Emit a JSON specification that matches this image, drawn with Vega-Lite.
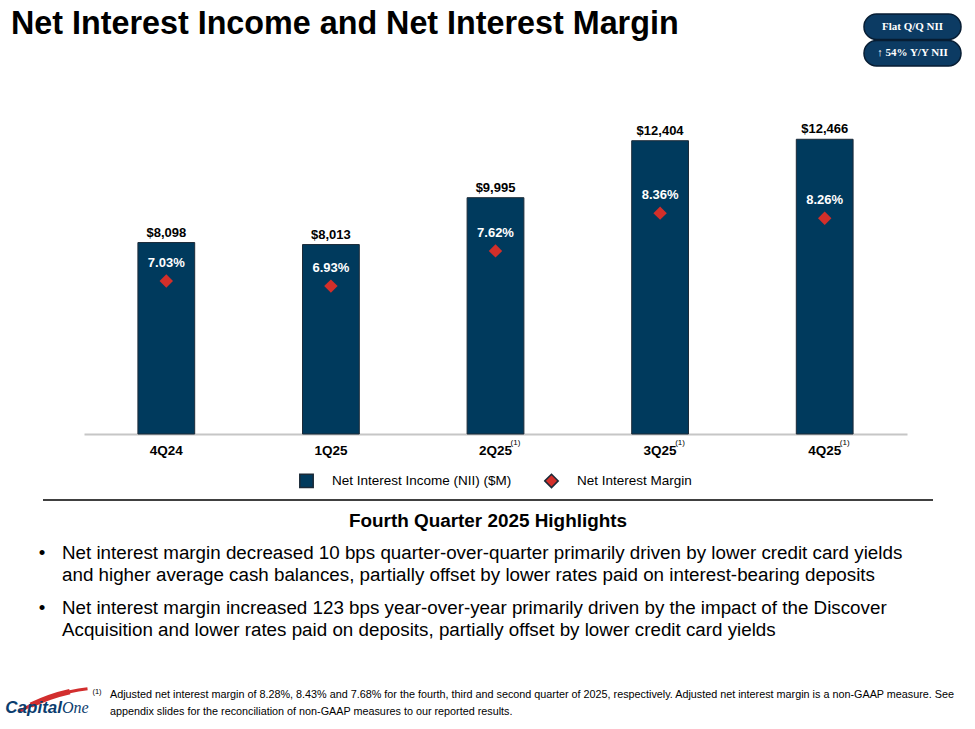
{
  "$schema": "https://vega.github.io/schema/vega-lite/v6.json",
  "background": "white",
  "padding": 0,
  "spacing": 0,
  "config": {
    "view": {"stroke": null},
    "font": "Liberation Sans",
    "concat": {"spacing": 0},
    "legend": {"layout": {"bottom": {"anchor": "middle"}}}
  },
  "resolve": {
    "scale": {"color": "independent", "shape": "independent"},
    "legend": {"color": "independent", "shape": "independent"}
  },
  "vconcat": [
    {
      "hconcat": [
        {
          "width": 864,
          "height": 47,
          "data": {"values": [{"heading": "Net Interest Income and Net Interest Margin"}]},
          "mark": {"type": "text", "align": "left", "baseline": "middle", "dx": 11, "fontSize": 32.3, "fontWeight": "bold", "color": "black"},
          "encoding": {
            "x": {"datum": 0, "scale": {"domain": [0, 1]}, "axis": null},
            "text": {"field": "heading"}
          }
        },
        {
          "width": 97,
          "height": 103,
          "data": {"values": [{"badge": "Flat Q/Q NII"}, {"badge": "↑ 54% Y/Y NII"}]},
          "encoding": {
            "y": {"field": "badge", "type": "nominal", "sort": null, "axis": null,
                  "scale": {"type": "band", "paddingInner": 0.04, "paddingOuter": 0.963, "align": 0.275}}
          },
          "layer": [
            {
              "mark": {"type": "rect", "cornerRadius": 12.5, "fill": "#0c3b63", "stroke": "#071d33", "strokeWidth": 1.5},
              "encoding": {
                "x": {"datum": 0, "scale": {"domain": [0, 1]}, "axis": null},
                "x2": {"datum": 1}
              }
            },
            {
              "mark": {"type": "text", "font": "Liberation Serif", "fontWeight": "bold", "fontSize": 11, "color": "white"},
              "encoding": {"text": {"field": "badge"}}
            }
          ]
        }
      ],
      "bounds": "flush",
      "spacing": 0
    },
    {
      "hconcat": [
        {"width": 84, "height": 396, "data": {"values": []}, "mark": "text", "encoding": {}},
        {
          "width": 823,
          "height": 331,
          "data": {
            "values": [
              {"quarter": "4Q24", "series": "Net Interest Income (NII) ($M)", "value": 8098},
              {"quarter": "1Q25", "series": "Net Interest Income (NII) ($M)", "value": 8013},
              {"quarter": "2Q25", "series": "Net Interest Income (NII) ($M)", "value": 9995, "note": "(1)"},
              {"quarter": "3Q25", "series": "Net Interest Income (NII) ($M)", "value": 12404, "note": "(1)"},
              {"quarter": "4Q25", "series": "Net Interest Income (NII) ($M)", "value": 12466, "note": "(1)"},
              {"quarter": "4Q24", "series": "Net Interest Margin", "value": 0.0703},
              {"quarter": "1Q25", "series": "Net Interest Margin", "value": 0.0693},
              {"quarter": "2Q25", "series": "Net Interest Margin", "value": 0.0762},
              {"quarter": "3Q25", "series": "Net Interest Margin", "value": 0.0836},
              {"quarter": "4Q25", "series": "Net Interest Margin", "value": 0.0826}
            ]
          },
          "layer": [
            {
              "transform": [{"filter": "datum.series === 'Net Interest Income (NII) ($M)'"}],
              "encoding": {
                "x": {
                  "field": "quarter", "type": "nominal", "sort": null,
                  "scale": {"paddingInner": 0.655, "paddingOuter": 0.3275},
                  "axis": {
                    "title": null, "labelAngle": 0, "ticks": false, "labelPadding": 9,
                    "labelFont": "Liberation Sans", "labelFontSize": 13.5, "labelFontWeight": "bold",
                    "labelColor": "black", "domainColor": "#c6c6c6", "domainWidth": 2
                  }
                },
                "y": {"field": "value", "type": "quantitative", "scale": {"domain": [0, 14000]}, "axis": null}
              },
              "layer": [
                {
                  "mark": {"type": "bar", "stroke": "#1b2a38", "strokeWidth": 1},
                  "encoding": {
                    "color": {
                      "field": "series", "type": "nominal",
                      "scale": {"domain": ["Net Interest Income (NII) ($M)", "Net Interest Margin"], "range": ["#003a5d", "#d32f2a"]},
                      "legend": {
                        "title": null, "orient": "bottom", "direction": "horizontal", "offset": 16,
                        "symbolSize": 180, "labelFont": "Liberation Sans", "labelLimit": 400,
                        "labelFontSize": 13.5, "labelColor": "black", "labelOffset": 18, "columnPadding": 29
                      }
                    }
                  }
                },
                {
                  "mark": {"type": "text", "baseline": "alphabetic", "dy": -6, "fontSize": 13, "fontWeight": "bold", "color": "black"},
                  "encoding": {"text": {"field": "value", "type": "quantitative", "format": "$,.0f"}}
                },
                {
                  "transform": [{"filter": "datum.note"}],
                  "mark": {"type": "text", "baseline": "middle", "dx": 20, "dy": 9, "fontSize": 8, "color": "black"},
                  "encoding": {"y": {"datum": 0}, "text": {"field": "note"}}
                }
              ]
            },
            {
              "transform": [{"filter": "datum.series === 'Net Interest Margin'"}],
              "encoding": {
                "x": {"field": "quarter", "type": "nominal", "sort": null},
                "y": {"field": "value", "type": "quantitative", "scale": {"domain": [0.0403, 0.1052]}, "axis": null}
              },
              "layer": [
                {
                  "mark": {"type": "point", "filled": true, "opacity": 1, "size": 180},
                  "encoding": {
                    "color": {"field": "series", "type": "nominal"},
                    "shape": {
                      "field": "series", "type": "nominal",
                      "scale": {"domain": ["Net Interest Income (NII) ($M)", "Net Interest Margin"], "range": ["square", "diamond"]},
                      "legend": {
                        "title": null, "orient": "bottom", "direction": "horizontal", "offset": 16,
                        "symbolSize": 180, "labelFont": "Liberation Sans", "labelLimit": 400,
                        "labelFontSize": 13.5, "labelColor": "black", "labelOffset": 18, "columnPadding": 29
                      }
                    }
                  }
                },
                {
                  "mark": {"type": "text", "baseline": "middle", "dy": -18, "fontSize": 13, "fontWeight": "bold", "color": "white"},
                  "encoding": {"text": {"field": "value", "type": "quantitative", "format": ".2%"}}
                }
              ]
            }
          ],
          "resolve": {"scale": {"y": "independent"}}
        }
      ],
      "bounds": "flush",
      "spacing": 0,
      "resolve": {
        "scale": {"color": "independent", "shape": "independent"},
        "legend": {"color": "independent", "shape": "independent"}
      }
    },
    {
      "hconcat": [
        {"width": 43, "height": 42, "data": {"values": []}, "mark": "text", "encoding": {}},
        {
          "width": 890,
          "height": 42,
          "data": {"values": [{"heading": "Fourth Quarter 2025 Highlights"}]},
          "layer": [
            {
              "mark": {"type": "rule", "color": "black", "strokeWidth": 1.5},
              "encoding": {"y": {"datum": 1, "scale": {"domain": [0, 1]}, "axis": null}}
            },
            {
              "mark": {"type": "text", "baseline": "middle", "fontSize": 18.9, "fontWeight": "bold", "color": "black"},
              "encoding": {"text": {"field": "heading"}}
            }
          ]
        }
      ],
      "bounds": "flush",
      "spacing": 0
    },
    {
      "hconcat": [
        {"width": 62, "height": 55, "data": {"values": []}, "mark": "text", "encoding": {}},
        {
          "width": 878,
          "height": 55,
          "data": {
            "values": [
              {"line": 1, "text": "Net interest margin decreased 10 bps quarter-over-quarter primarily driven by lower credit card yields"},
              {"line": 2, "text": "and higher average cash balances, partially offset by lower rates paid on interest-bearing deposits"}
            ]
          },
          "encoding": {
            "x": {"datum": 0, "scale": {"domain": [0, 1]}, "axis": null},
            "y": {"field": "line", "type": "ordinal", "axis": null, "scale": {"type": "band", "paddingInner": 0, "paddingOuter": 0.25, "align": 0}}
          },
          "layer": [
            {
              "mark": {"type": "text", "align": "left", "baseline": "middle", "fontSize": 18.8, "color": "black"},
              "encoding": {"text": {"field": "text"}}
            },
            {
              "transform": [{"filter": "datum.line === 1"}],
              "mark": {"type": "text", "align": "center", "baseline": "middle", "dx": -20, "fontSize": 18.8, "color": "black", "text": "•"}
            }
          ]
        }
      ],
      "bounds": "flush",
      "spacing": 0
    },
    {
      "hconcat": [
        {"width": 62, "height": 55, "data": {"values": []}, "mark": "text", "encoding": {}},
        {
          "width": 878,
          "height": 55,
          "data": {
            "values": [
              {"line": 1, "text": "Net interest margin increased 123 bps year-over-year primarily driven by the impact of the Discover"},
              {"line": 2, "text": "Acquisition and lower rates paid on deposits, partially offset by lower credit card yields"}
            ]
          },
          "encoding": {
            "x": {"datum": 0, "scale": {"domain": [0, 1]}, "axis": null},
            "y": {"field": "line", "type": "ordinal", "axis": null, "scale": {"type": "band", "paddingInner": 0, "paddingOuter": 0.25, "align": 0}}
          },
          "layer": [
            {
              "mark": {"type": "text", "align": "left", "baseline": "middle", "fontSize": 18.8, "color": "black"},
              "encoding": {"text": {"field": "text"}}
            },
            {
              "transform": [{"filter": "datum.line === 1"}],
              "mark": {"type": "text", "align": "center", "baseline": "middle", "dx": -20, "fontSize": 18.8, "color": "black", "text": "•"}
            }
          ]
        }
      ],
      "bounds": "flush",
      "spacing": 0
    },
    {
      "hconcat": [
        {
          "width": 110,
          "height": 69,
          "data": {"values": [{"brand": "Capital", "suffix": "One"}]},
          "layer": [
            {
              "mark": {"type": "arc", "theta": -0.52, "theta2": -0.12, "radius": 181, "radius2": 178, "xOffset": 54, "yOffset": 180.5, "color": "#d22e2e"}
            },
            {
              "mark": {"type": "arc", "theta": -0.45, "theta2": -0.22, "radius": 182.5, "radius2": 177, "xOffset": 54, "yOffset": 180.5, "color": "#d22e2e"}
            },
            {
              "mark": {"type": "text", "align": "right", "baseline": "alphabetic", "dx": 7, "dy": 26.5, "fontSize": 17, "fontWeight": "bold", "fontStyle": "italic", "color": "#0b3d6e"},
              "encoding": {"text": {"field": "brand"}}
            },
            {
              "mark": {"type": "text", "align": "left", "baseline": "alphabetic", "dx": 7, "dy": 26.5, "font": "Liberation Serif", "fontSize": 16, "fontStyle": "italic", "color": "#0b3d6e"},
              "encoding": {"text": {"field": "suffix"}}
            }
          ]
        },
        {
          "width": 850,
          "height": 69,
          "data": {
            "values": [
              {"line": 1, "ref": "(1)", "text": "Adjusted net interest margin of 8.28%, 8.43% and 7.68% for the fourth, third and second quarter of 2025, respectively. Adjusted net interest margin is a non-GAAP measure. See"},
              {"line": 2, "text": "appendix slides for the reconciliation of non-GAAP measures to our reported results."}
            ]
          },
          "encoding": {
            "x": {"datum": 0, "scale": {"domain": [0, 1]}, "axis": null},
            "y": {"field": "line", "type": "ordinal", "axis": null, "scale": {"type": "band", "paddingInner": 0, "paddingOuter": 1.03, "align": 1}}
          },
          "layer": [
            {
              "mark": {"type": "text", "align": "left", "baseline": "middle", "fontSize": 10.8, "color": "black"},
              "encoding": {"text": {"field": "text"}}
            },
            {
              "transform": [{"filter": "datum.ref"}],
              "mark": {"type": "text", "align": "center", "baseline": "middle", "dx": -13, "dy": -3, "fontSize": 7.5, "color": "black"},
              "encoding": {"text": {"field": "ref"}}
            }
          ]
        }
      ],
      "bounds": "flush",
      "spacing": 0
    }
  ]
}
